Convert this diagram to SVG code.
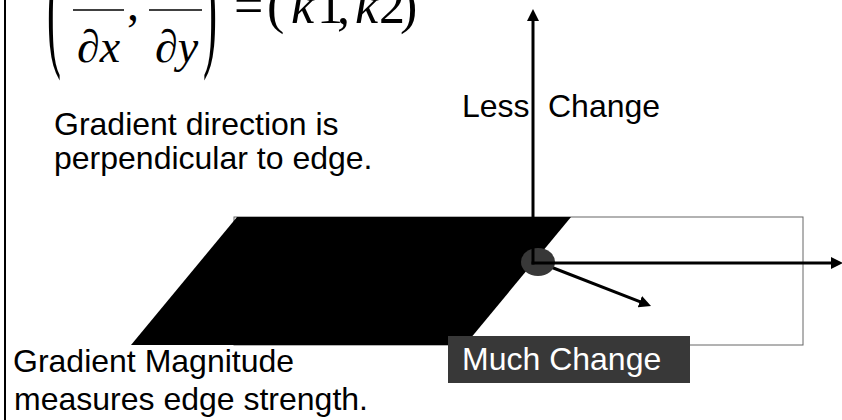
<svg xmlns="http://www.w3.org/2000/svg" width="842" height="420" viewBox="0 0 842 420">
<style>
.lbl{font-family:"Liberation Sans",Arial,sans-serif;font-size:32px;fill:#000}
.math{font-family:"Liberation Serif","Times New Roman",serif;fill:#000}
.it{font-style:italic}
.arrow{stroke:#000;stroke-width:3;fill:none;marker-end:url(#ah)}
</style>
<defs>
<marker id="ah" markerUnits="userSpaceOnUse" markerWidth="12" markerHeight="12" refX="2" refY="6" orient="auto">
<path d="M0,0 L12,6 L0,12 z" fill="#000"/>
</marker>
</defs>
<rect width="842" height="420" fill="#fff"/>
<line x1="5" y1="0" x2="5" y2="420" stroke="#000" stroke-width="2"/>
<g id="equation">
<text class="math" font-size="42" transform="translate(47,52) scale(1,3.2)">(</text>
<line x1="73" y1="10" x2="124" y2="10" stroke="#000" stroke-width="1.5"/>
<text class="math" font-size="46" x="77" y="62">∂<tspan class="it">x</tspan></text>
<text class="math" font-size="48" x="127" y="20">,</text>
<line x1="149" y1="10" x2="202" y2="10" stroke="#000" stroke-width="1.5"/>
<text class="math" font-size="46" x="155" y="62">∂<tspan class="it">y</tspan></text>
<text class="math" font-size="42" transform="translate(203,52) scale(1,3.2)">)</text>
<text class="math" font-size="52" y="23"><tspan x="234">=</tspan> <tspan x="267">(</tspan><tspan class="it" x="291">k</tspan><tspan x="317">1</tspan><tspan x="337">,</tspan> <tspan class="it" x="355">k</tspan><tspan x="379">2</tspan><tspan x="400">)</tspan></text>
</g>
<g id="direction-text">
<text class="lbl" x="54" y="135">Gradient direction is</text>
<text class="lbl" x="54" y="169">perpendicular to edge.</text>
</g>
<g id="magnitude-text">
<text class="lbl" x="13" y="372">Gradient Magnitude</text>
<text class="lbl" x="14" y="410">measures edge strength.</text>
</g>
<g id="image-region">
<rect x="234" y="217" width="569" height="128" fill="none" stroke="#666" stroke-width="1"/>
<polygon points="237,217 571,217 465,345 131,345" fill="#000"/>
</g>
<g id="connectors">
<line class="arrow" x1="538" y1="262" x2="641.7" y2="302.4"/>
<ellipse cx="538" cy="262" rx="17" ry="14" fill="#383838"/>
<line class="arrow" x1="533" y1="264.5" x2="533" y2="19"/>
<line class="arrow" x1="531.5" y1="263" x2="833" y2="263"/>
</g>
<g id="less-change">
<text class="lbl" x="462" y="117">Less <tspan x="548">Change</tspan></text>
</g>
<g id="much-change">
<rect x="448" y="336" width="242" height="47" fill="#383838"/>
<text class="lbl" x="462" y="370" style="fill:#fff">Much Change</text>
</g>
</svg>
